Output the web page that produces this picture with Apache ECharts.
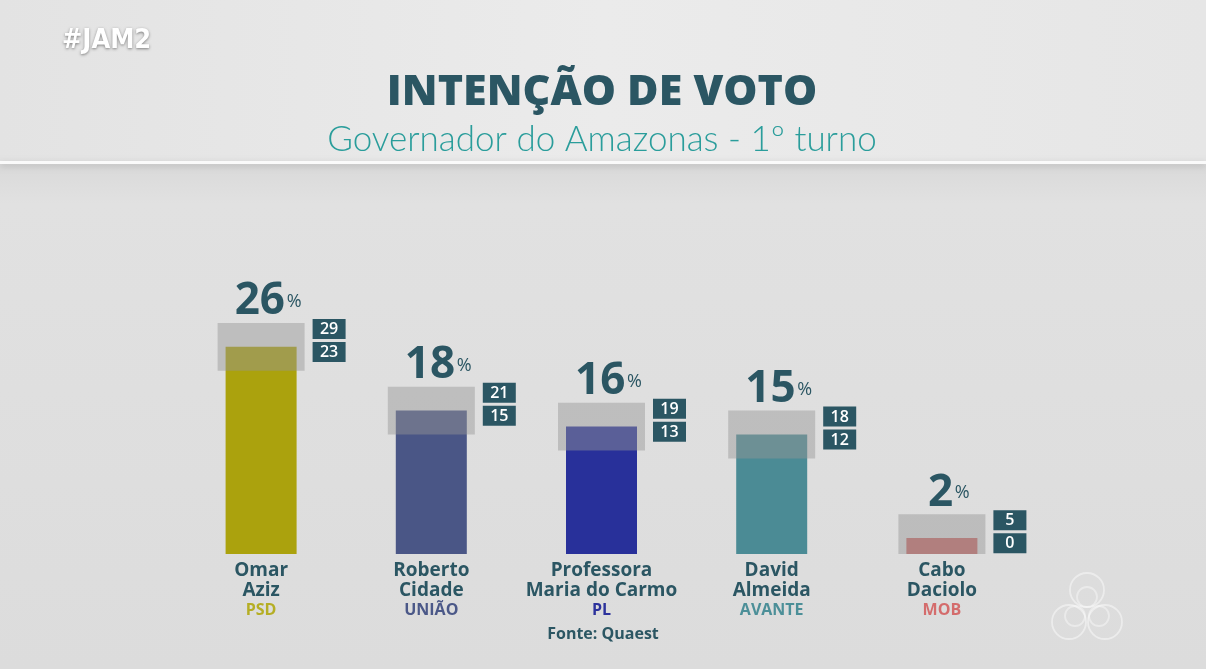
<!DOCTYPE html>
<html>
<head>
<meta charset="utf-8">
<script src="https://cdn.jsdelivr.net/npm/echarts@6/dist/echarts.min.js"></script>
<style>
html,body{margin:0;padding:0;background:#e4e4e4;}
#main{width:1206px;height:669px;}
</style>
</head>
<body>
<div id="main"></div>
<script>
// ---- data ----
const nameLines = ['Omar\nAziz', 'Roberto\nCidade', 'Professora\nMaria do Carmo', 'David\nAlmeida', 'Cabo\nDaciolo'];
const parties = ['PSD', 'UNIÃO', 'PL', 'AVANTE', 'MOB'];
const values = [26, 18, 16, 15, 2];
const upper = [29, 21, 19, 18, 5];
const lower = [23, 15, 13, 12, 0];
const barColors = ['#aba20d', '#4a5686', '#28309a', '#4b8b95', '#c76b6a'];
const partyColors = ['#b5ae24', '#4b5888', '#2c329c', '#4c8f98', '#d46c6c'];

const DARK = '#2b5663';
const chart = echarts.init(document.getElementById('main'), null, {renderer: 'canvas'});

const rich = {n: {fontFamily: 'Open Sans', fontWeight: 700, fontSize: 19, color: DARK, lineHeight: 19.5, align: 'center'}};
partyColors.forEach((c, i) => {
  rich['p' + i] = {fontFamily: 'Open Sans', fontWeight: 700, fontSize: 16, color: c, lineHeight: 21, align: 'center'};
});

const option = {
  backgroundColor: 'transparent',
  animation: false,
  grid: {left: 176, right: 179, top: 315, bottom: 115},
  xAxis: {
    type: 'category',
    data: nameLines,
    axisLine: {show: false},
    axisTick: {show: false},
    axisLabel: {
      margin: 7,
      interval: 0,
      formatter: function (val, i) {
        return val.split('\n').map(l => '{n|' + l + '}').join('\n') + '\n{p' + i + '|' + parties[i] + '}';
      },
      rich: rich
    }
  },
  yAxis: {type: 'value', min: 0, max: 30, show: false, splitLine: {show: false}},
  graphic: [
    {type: 'rect', silent: true, z: -10, shape: {x: 0, y: 0, width: 1206, height: 163},
      style: {fill: new echarts.graphic.LinearGradient(0, 0, 1, 0, [
        {offset: 0, color: '#e3e3e3'}, {offset: 0.5, color: '#ebebeb'}, {offset: 1, color: '#e6e6e6'}])}},
    {type: 'rect', silent: true, z: -10, shape: {x: 0, y: 163, width: 1206, height: 506},
      style: {fill: new echarts.graphic.LinearGradient(0, 0, 0, 1, [
        {offset: 0, color: '#d9d9d9'}, {offset: 0.08, color: '#e1e1e1'}, {offset: 1, color: '#dcdcdc'}])}},
    {type: 'rect', silent: true, z: -9, shape: {x: 0, y: 161, width: 1206, height: 3},
      style: {fill: '#fafafa', shadowBlur: 6, shadowColor: 'rgba(0,0,0,0.18)', shadowOffsetY: 2}},
    {type: 'text', x: 62, y: 41, style: {text: '#JAM2', font: 'bold 27px "Liberation Sans Narrow", "DejaVu Sans Condensed", sans-serif',
      fill: '#ffffff', verticalAlign: 'middle', textShadowBlur: 3, textShadowColor: 'rgba(0,0,0,0.45)', textShadowOffsetY: 1}},
    {type: 'text', x: 602, y: 93, style: {text: 'INTENÇÃO DE VOTO', font: '800 43px "Open Sans", sans-serif',
      fill: DARK, align: 'center', verticalAlign: 'middle'}},
    {type: 'text', x: 602, y: 140, style: {text: 'Governador do Amazonas - 1º turno', font: '300 35px Lato, sans-serif',
      fill: '#2a9d9b', align: 'center', verticalAlign: 'middle'}},
    {type: 'text', x: 603, y: 634, style: {text: 'Fonte: Quaest', font: 'bold 16px "Open Sans", sans-serif',
      fill: DARK, align: 'center', verticalAlign: 'middle'}},
    // watermark logo
    {type: 'group', silent: true, children: [
      {type: 'circle', shape: {cx: 1087, cy: 590, r: 17}, style: {fill: 'none', stroke: 'rgba(255,255,255,0.45)', lineWidth: 1.8}},
      {type: 'circle', shape: {cx: 1069, cy: 622, r: 17}, style: {fill: 'none', stroke: 'rgba(255,255,255,0.45)', lineWidth: 1.8}},
      {type: 'circle', shape: {cx: 1105, cy: 622, r: 17}, style: {fill: 'none', stroke: 'rgba(255,255,255,0.45)', lineWidth: 1.8}},
      {type: 'circle', shape: {cx: 1087, cy: 597, r: 10}, style: {fill: 'none', stroke: 'rgba(255,255,255,0.4)', lineWidth: 1.8}},
      {type: 'circle', shape: {cx: 1075, cy: 616, r: 10}, style: {fill: 'none', stroke: 'rgba(255,255,255,0.4)', lineWidth: 1.8}},
      {type: 'circle', shape: {cx: 1099, cy: 616, r: 10}, style: {fill: 'none', stroke: 'rgba(255,255,255,0.4)', lineWidth: 1.8}}
    ]}
  ],
  series: [
    {
      type: 'bar',
      barWidth: 71,
      z: 2,
      data: values.map((v, i) => ({value: v, itemStyle: {color: barColors[i]}}))
    },
    {
      type: 'custom',
      z: 5,
      clip: false,
      encode: {x: 0, y: [1, 2]},
      data: values.map((v, i) => [i, upper[i], lower[i], v]),
      renderItem: function (params, api) {
        const i = api.value(0);
        const hi = api.value(1), lo = api.value(2), v = api.value(3);
        const top = api.coord([i, hi]);
        const bot = api.coord([i, lo]);
        const cx = top[0];
        const ty = top[1];
        return {
          type: 'group',
          children: [
            {type: 'rect', shape: {x: cx - 43.5, y: ty, width: 87, height: bot[1] - ty},
              style: {fill: 'rgba(150,150,150,0.46)'}},
            {type: 'rect', shape: {x: cx + 51.5, y: ty - 4, width: 33, height: 20}, style: {fill: DARK}},
            {type: 'rect', shape: {x: cx + 51.5, y: ty + 19, width: 33, height: 20}, style: {fill: DARK}},
            {type: 'text', x: cx + 68, y: ty + 6.5, style: {text: String(hi), fill: '#ffffff',
              font: '600 16px "Open Sans", sans-serif', align: 'center', verticalAlign: 'middle'}},
            {type: 'text', x: cx + 68, y: ty + 29.5, style: {text: String(lo), fill: '#ffffff',
              font: '600 16px "Open Sans", sans-serif', align: 'center', verticalAlign: 'middle'}},
            {type: 'text', x: cx + 7, y: ty + 3, style: {
              text: '{v|' + v + '}{s| }{p|%}',
              align: 'center', verticalAlign: 'bottom',
              rich: {
                v: {fontFamily: 'Open Sans', fontWeight: 700, fontSize: 44, fill: DARK, color: DARK, lineHeight: 48, verticalAlign: 'middle'},
                s: {fontSize: 6, lineHeight: 48},
                p: {fontFamily: 'Open Sans', fontWeight: 400, fontSize: 18, fill: DARK, color: DARK, lineHeight: 48, verticalAlign: 'middle'}
              }
            }}
          ]
        };
      }
    }
  ]
};
chart.setOption(option);
</script>
</body>
</html>
